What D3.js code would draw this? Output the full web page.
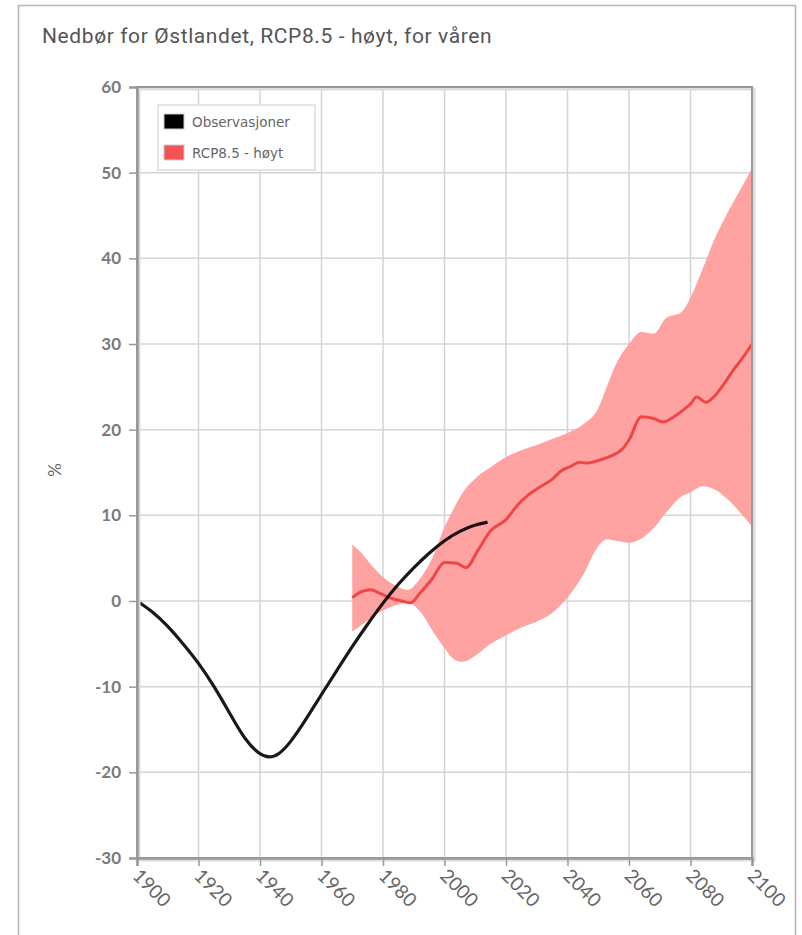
<!DOCTYPE html>
<html>
<head>
<meta charset="utf-8">
<script src="https://cdn.jsdelivr.net/npm/d3@7"></script>
<style>
  body { margin: 0; background: #fff; }
  svg { display: block; }
</style>
</head>
<body>
<div id="chart"></div>
<script>
const title = "Nedbør for Østlandet, RCP8.5 - høyt, for våren";
const seriesNames = ["Observasjoner", "RCP8.5 - høyt"];
const xTicks = [1900, 1920, 1940, 1960, 1980, 2000, 2020, 2040, 2060, 2080, 2100];
const yTicks = [-30, -20, -10, 0, 10, 20, 30, 40, 50, 60];

// observed (smoothed) spring precipitation change, %
const obsYears = [1900, 1905, 1910, 1915, 1920, 1925, 1930, 1935, 1940, 1943, 1946, 1950, 1955, 1960, 1965, 1970, 1975, 1980, 1985, 1990, 1995, 2000, 2005, 2010, 2014];
const obsValues = [0, -1.2, -2.9, -5.0, -7.2, -9.9, -13.0, -16.2, -18.0, -18.3, -18.0, -16.5, -13.8, -10.9, -8.1, -5.3, -2.7, -0.2, 2.0, 3.9, 5.6, 7.1, 8.2, 8.9, 9.2];

// RCP8.5 median
const medYears = [1970, 1973, 1976, 1979, 1982, 1985, 1989, 1992, 1996, 2000, 2004, 2007, 2011, 2015, 2020, 2024, 2027, 2031, 2035, 2038, 2041, 2044, 2046, 2050, 2054, 2058, 2060, 2064, 2068, 2071, 2075, 2078, 2080, 2082, 2085, 2088, 2091, 2094, 2097, 2100];
const medValues = [0.4, 1.1, 1.3, 0.9, 0.4, 0.1, -0.2, 0.9, 2.6, 4.5, 4.4, 3.9, 6.0, 8.2, 9.5, 11.3, 12.3, 13.3, 14.2, 15.2, 15.7, 16.2, 16.1, 16.4, 16.9, 17.8, 18.8, 21.5, 21.3, 20.9, 21.6, 22.4, 23.0, 23.8, 23.2, 24.0, 25.4, 27.0, 28.4, 30.0];

// RCP8.5 spread (low / high)
const bandYears = [1970, 1973, 1976, 1980, 1984, 1988, 1992, 1996, 2000, 2003, 2006, 2010, 2015, 2020, 2025, 2030, 2035, 2040, 2045, 2050, 2053, 2056, 2060, 2064, 2068, 2072, 2077, 2080, 2084, 2088, 2092, 2096, 2100];
const bandLow = [-3.6, -2.8, -2.0, -1.1, -0.5, -0.2, -1.2, -3.4, -5.5, -6.8, -7.1, -6.4, -5.0, -4.0, -3.1, -2.4, -1.4, 0.4, 3.0, 6.4, 7.2, 7.0, 6.8, 7.3, 8.5, 10.3, 12.2, 12.7, 13.4, 13.0, 11.9, 10.4, 8.7];
const bandHigh = [6.6, 5.6, 4.3, 2.8, 1.8, 1.3, 2.6, 5.0, 8.6, 10.8, 12.7, 14.3, 15.6, 16.8, 17.6, 18.2, 18.9, 19.6, 20.6, 22.5, 25.2, 27.8, 30.0, 31.4, 31.2, 33.0, 33.7, 35.4, 38.8, 42.4, 45.3, 47.9, 50.5];

const W = 802, H = 935;
const margin = { top: 87, right: 50, bottom: 77, left: 137 };
const width = W - margin.left - margin.right;
const height = H - margin.top - margin.bottom;

const svg = d3.select("#chart").append("svg")
  .attr("width", W)
  .attr("height", H);

// outer frame
svg.append("rect")
  .attr("x", 18.5).attr("y", 5.5)
  .attr("width", 777).attr("height", 940)
  .attr("fill", "none")
  .attr("stroke", "#b5b5b5")
  .attr("stroke-width", 1.5);

svg.append("text")
  .attr("x", 42).attr("y", 43)
  .attr("font-family", "Roboto, sans-serif")
  .attr("font-size", 21)
  .attr("letter-spacing", 0.6)
  .attr("fill", "#555")
  .text(title);

const g = svg.append("g").attr("transform", `translate(${margin.left},${margin.top})`);

const x = d3.scaleLinear().domain([1900, 2100]).range([0, width]);
const y = d3.scaleLinear().domain([-30, 60]).range([height, 0]);

// grid
g.append("g").selectAll("line").data(xTicks).join("line")
  .attr("x1", d => x(d)).attr("x2", d => x(d))
  .attr("y1", 0).attr("y2", height)
  .attr("stroke", "#d4d4d4").attr("stroke-width", 1.5);
g.append("g").selectAll("line").data(yTicks).join("line")
  .attr("x1", 0).attr("x2", width)
  .attr("y1", d => y(d)).attr("y2", d => y(d))
  .attr("stroke", "#d4d4d4").attr("stroke-width", 1.5);

// band
const area = d3.area()
  .x((d, i) => x(bandYears[i]))
  .y0((d, i) => y(bandLow[i]))
  .y1((d, i) => y(bandHigh[i]))
  .curve(d3.curveMonotoneX);
g.append("path")
  .datum(bandYears)
  .attr("fill", "#ff9d9d")
  .attr("fill-opacity", 0.95)
  .attr("d", area);

// median line
const medLine = d3.line()
  .x((d, i) => x(medYears[i]))
  .y((d, i) => y(medValues[i]))
  .curve(d3.curveMonotoneX);
g.append("path")
  .datum(medYears)
  .attr("fill", "none")
  .attr("stroke", "#f04646")
  .attr("stroke-width", 3)
  .attr("d", medLine);

// observations
const obsLine = d3.line()
  .x((d, i) => x(obsYears[i]))
  .y((d, i) => y(obsValues[i]))
  .curve(d3.curveBasis);
g.append("path")
  .datum(obsYears)
  .attr("fill", "none")
  .attr("stroke", "#000")
  .attr("stroke-opacity", 0.9)
  .attr("stroke-width", 3.2)
  .attr("d", obsLine);

// plot frame with soft shadow
g.append("rect")
  .attr("x", 2).attr("y", 2)
  .attr("width", width).attr("height", height)
  .attr("fill", "none")
  .attr("stroke", "#ddd")
  .attr("stroke-width", 3);
g.append("rect")
  .attr("x", 0).attr("y", 0)
  .attr("width", width).attr("height", height)
  .attr("fill", "none")
  .attr("stroke", "#999")
  .attr("stroke-width", 2);

// y axis
const yAxis = g.append("g")
  .call(d3.axisLeft(y).tickValues(yTicks).tickFormat(d => String(d)).tickSize(8).tickPadding(8));
yAxis.select(".domain").attr("stroke", "#999").attr("stroke-width", 2.5);
yAxis.selectAll(".tick line").attr("stroke", "#999").attr("stroke-width", 1.5);
yAxis.selectAll("text")
  .attr("font-family", "Lato, sans-serif")
  .attr("font-weight", "bold")
  .attr("font-size", 17)
  .attr("fill", "#7a7a7a");

// x axis
const xAxis = g.append("g")
  .attr("transform", `translate(0,${height})`)
  .call(d3.axisBottom(x).tickValues(xTicks).tickFormat(d => String(d)).tickSize(8));
xAxis.select(".domain").attr("stroke", "#999").attr("stroke-width", 2.5);
xAxis.selectAll(".tick line").attr("stroke", "#999").attr("stroke-width", 1.5);
xAxis.selectAll("text")
  .attr("font-family", "Lato, sans-serif")
  .attr("font-size", 19)
  .attr("fill", "#666")
  .attr("text-anchor", "start")
  .attr("dy", null)
  .attr("y", 0)
  .attr("transform", "translate(-6,19) rotate(45)");

// y label
svg.append("text")
  .attr("transform", "translate(61,470) rotate(-90)")
  .attr("text-anchor", "middle")
  .attr("font-family", "Lato, sans-serif")
  .attr("font-size", 17)
  .attr("fill", "#666")
  .text("%");

// legend
const legend = svg.append("g").attr("transform", "translate(158,105)");
legend.append("rect")
  .attr("width", 157).attr("height", 65)
  .attr("fill", "#fff")
  .attr("stroke", "#ddd")
  .attr("stroke-width", 1.5);
const legendColors = ["#000", "#f55252"];
const items = legend.selectAll(".item").data(seriesNames).join("g")
  .attr("class", "item")
  .attr("transform", (d, i) => `translate(6,${9 + i * 31})`);
items.append("rect")
  .attr("width", 20).attr("height", 15)
  .attr("fill", (d, i) => legendColors[i])
  .attr("stroke", "#ccc");
items.append("text")
  .attr("x", 28).attr("y", 13)
  .attr("font-family", "DejaVu Sans, sans-serif")
  .attr("font-size", 13.5)
  .attr("fill", "#666")
  .text(d => d);
</script>
</body>
</html>
